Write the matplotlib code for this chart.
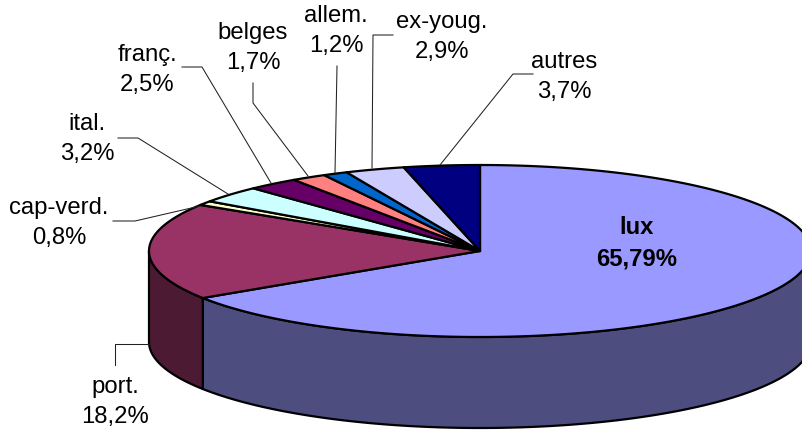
import numpy as np
import matplotlib
matplotlib.use('Agg')
import matplotlib.pyplot as plt
from matplotlib.patches import Polygon

plt.rcParams['font.family'] = ['Liberation Sans', 'DejaVu Sans']

names = ['lux', 'port.', 'cap-verd.', 'ital.', 'franç.', 'belges', 'allem.', 'ex-youg.', 'autres']
values = [65.79, 18.2, 0.8, 3.2, 2.5, 1.7, 1.2, 2.9, 3.7]
pct_labels = ['65,79%', '18,2%', '0,8%', '3,2%', '2,5%', '1,7%', '1,2%', '2,9%', '3,7%']
top_colors = ['#9999FF', '#993366', '#FFFFCC', '#CCFFFF', '#660066', '#FF8080', '#0066CC', '#CCCCFF', '#000080']
side_colors = ['#4D4D80', '#4D1A33', '#808066', '#668080', '#330033', '#804040', '#003366', '#666680', '#000040']

# label centres, pixels
label_pos = [(637, 243), (115, 402), (59, 223), (87, 139), (147, 70), (253, 48), (336, 31), (442, 37), (564, 77)]
# leader lines, pixels
leaders = [
	None,
	[(149, 344), (115, 344), (115, 365)],
	[(113, 221), (135, 221), (200, 206)],
	[(118, 138), (138, 138), (228, 194)],
	[(182, 67), (202, 67), (271, 183)],
	[(253, 83), (253, 103), (308, 176)],
	[(337, 66), (335, 173)],
	[(393, 35), (373, 35), (372, 168)],
	[(533, 74), (513, 74), (440, 165)],
]

cx, cy = 480, 251
rx, ry = 331, 86
depth = 91

fig = plt.figure(figsize=(8.03, 4.32), dpi=100)
ax = fig.add_axes([0, 0, 1, 1])
ax.set_xlim(0, 803)
ax.set_ylim(432, 0)
ax.axis('off')

def arc(t1, t2, off=0):
	t = np.radians(np.linspace(t1, t2, 200))
	return np.column_stack((cx + rx*np.cos(t), cy - ry*np.sin(t) + off))

angles = 90 - 360*np.cumsum([0] + values)/sum(values)

# side walls, only the front part shows
for i in range(len(values)):
	hi = min(angles[i], 0)
	lo = max(angles[i+1], -180)
	if hi > lo:
		pts = np.vstack((arc(hi, lo), arc(lo, hi, depth)))
		ax.add_patch(Polygon(pts, closed=True, fc=side_colors[i], ec='black', lw=1.6, joinstyle='round'))

# top faces
for i in range(len(values)):
	pts = np.vstack(([(cx, cy)], arc(angles[i], angles[i+1])))
	ax.add_patch(Polygon(pts, closed=True, fc=top_colors[i], ec='black', lw=1.6, joinstyle='round'))

for line in leaders:
	if line is not None:
		xs, ys = zip(*line)
		ax.plot(xs, ys, color='#222222', lw=0.75)

for i in range(len(names)):
	weight = 'bold' if i == 0 else 'normal'
	ax.text(label_pos[i][0], label_pos[i][1], names[i] + '\n' + pct_labels[i], ha='center', va='center',
		fontsize=17.2, fontweight=weight, linespacing=1.47, color='black')

fig.savefig('out.png', dpi=100)
